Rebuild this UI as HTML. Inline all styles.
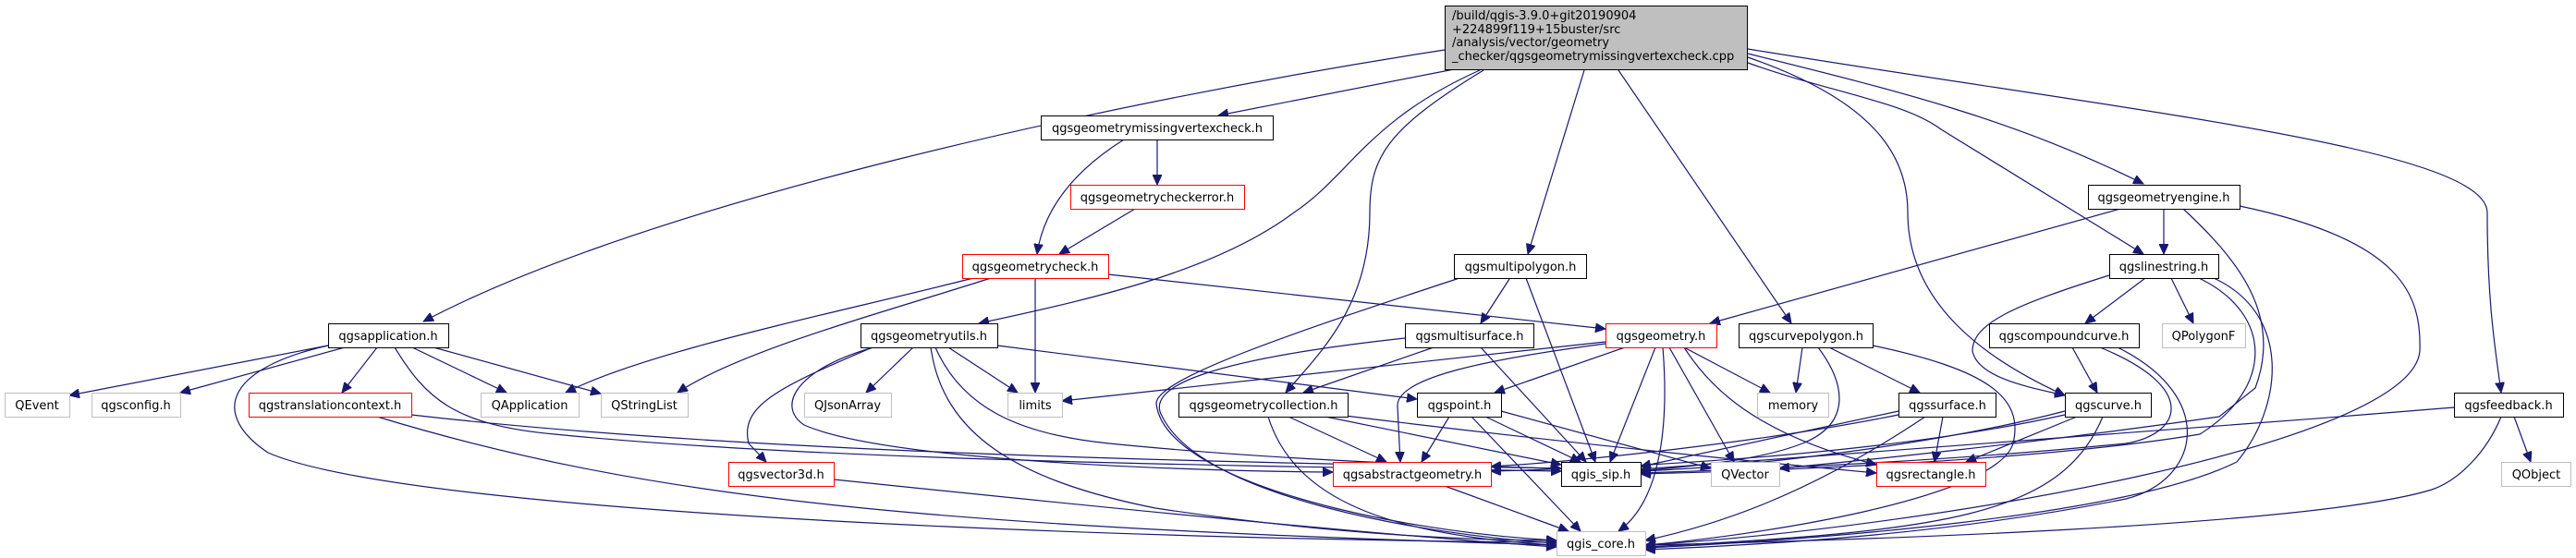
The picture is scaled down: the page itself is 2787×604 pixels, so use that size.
<!DOCTYPE html>
<html><head><meta charset="utf-8"><style>
html,body{margin:0;padding:0;background:#fff;}
svg{display:block;}
text{font-family:"DejaVu Sans","Liberation Sans",sans-serif;font-size:13px;fill:#000;}
</style></head><body>
<svg width="2787" height="604" viewBox="0 0 2787 604" xmlns="http://www.w3.org/2000/svg">
<defs><marker id="a" markerWidth="12" markerHeight="10" refX="11" refY="5" orient="auto" markerUnits="userSpaceOnUse"><path d="M0,0 L11,5 L0,10 z" fill="#191970" stroke="#191970"/></marker></defs>
<g fill="none" stroke="#191970" stroke-width="1.2" marker-end="url(#a)">
<path d="M1563,54 C1200,110 700,220 458,348"/>
<path d="M1573,75 L1318,125"/>
<path d="M1601,76 C1480,130 1460,190 1400,230 C1320,290 1200,320 1059,350"/>
<path d="M1605,76 C1500,140 1482,170 1482,230 C1482,330 1430,380 1391,425"/>
<path d="M1714,76 L1653,275"/>
<path d="M1751,76 L1938,350"/>
<path d="M1891,62 C2030,110 2064,170 2064,230 C2064,330 2150,390 2234,428"/>
<path d="M1891,68 C1980,100 2060,110 2100,140 L2319,275"/>
<path d="M1891,58 C2060,100 2180,130 2319,199"/>
<path d="M1891,53 C2300,120 2690,160 2691,230 C2691,330 2700,380 2706,425"/>
<path d="M1252,151 L1252,200"/>
<path d="M1216,151 C1170,180 1130,220 1122,275"/>
<path d="M1228,226 L1146,275"/>
<path d="M1053,301 C900,340 700,380 612,425"/>
<path d="M1072,301 C950,340 800,380 733,425"/>
<path d="M1120,301 L1120,425"/>
<path d="M1199,297 L1737,356"/>
<path d="M355,374 L75,428"/>
<path d="M373,376 L195,425"/>
<path d="M408,376 L370,425"/>
<path d="M446,376 L548,425"/>
<path d="M469,376 L650,426"/>
<path d="M355,374 C240,400 230,450 290,490 C450,560 1300,585 1684,587"/>
<path d="M427,376 C460,430 490,460 600,470 C900,500 1400,505 1689,510"/>
<path d="M445,449 C800,490 1300,500 1689,507"/>
<path d="M408,451 C700,540 1000,570 1684,590"/>
<path d="M988,376 L937,425"/>
<path d="M944,376 C840,420 800,440 810,480 L829,500"/>
<path d="M1026,376 L1101,425"/>
<path d="M1079,374 L1533,432"/>
<path d="M945,376 C860,400 840,440 870,460 C960,500 1300,510 1442,511"/>
<path d="M1012,376 C1040,440 1100,470 1200,480 C1400,500 1600,505 1689,507"/>
<path d="M1007,376 C1020,470 1100,520 1250,550 C1450,580 1600,585 1684,585"/>
<path d="M902,519 C1200,550 1500,580 1684,592"/>
<path d="M1633,302 L1602,350"/>
<path d="M1651,301 L1726,500"/>
<path d="M1579,301 C1400,360 1250,410 1251,437 C1260,520 1500,575 1684,585"/>
<path d="M1551,376 L1410,425"/>
<path d="M1602,376 L1716,500"/>
<path d="M1520,366 C1300,390 1240,420 1257,450 C1300,540 1550,580 1684,588"/>
<path d="M1737,370 L1149,434"/>
<path d="M1758,376 L1617,425"/>
<path d="M1737,372 C1600,390 1510,410 1512,440 L1515,500"/>
<path d="M1791,376 L1742,500"/>
<path d="M1799,376 C1805,450 1800,540 1751,575"/>
<path d="M1806,376 L1876,500"/>
<path d="M1822,376 L1915,425"/>
<path d="M1822,376 C1850,420 1900,470 2030,503"/>
<path d="M1394,451 L1500,500"/>
<path d="M1429,450 L1689,503"/>
<path d="M1372,451 C1400,540 1500,580 1684,590"/>
<path d="M1455,450 C1700,480 1900,500 2030,512"/>
<path d="M1568,451 L1538,500"/>
<path d="M1605,450 L1710,500"/>
<path d="M1592,451 L1710,575"/>
<path d="M1624,445 L1851,507"/>
<path d="M1563,526 L1697,575"/>
<path d="M1950,376 L1943,425"/>
<path d="M1979,376 L2077,425"/>
<path d="M1967,376 C2000,420 2000,460 1950,480 C1900,500 1820,505 1775,510"/>
<path d="M2026,374 C2150,400 2190,430 2178,480 C2160,540 1900,580 1780,590"/>
<path d="M2054,445 L1775,505"/>
<path d="M2054,449 C1900,480 1700,500 1613,505"/>
<path d="M2102,451 L2093,500"/>
<path d="M2083,451 C1950,540 1850,570 1780,585"/>
<path d="M2234,445 C2100,480 1900,505 1775,510"/>
<path d="M2234,449 C2050,490 1800,505 1613,510"/>
<path d="M2247,451 L2127,500"/>
<path d="M2275,451 C2230,560 2100,575 1780,592"/>
<path d="M2242,376 L2269,425"/>
<path d="M2272,376 C2380,420 2360,470 2300,480 C2100,500 1900,508 1775,512"/>
<path d="M2291,376 C2400,430 2380,520 2300,540 C2100,580 1900,590 1780,595"/>
<path d="M2321,301 L2256,350"/>
<path d="M2349,301 L2373,350"/>
<path d="M2282,298 C2180,330 2134,350 2134,380 C2140,410 2200,420 2234,428"/>
<path d="M2379,301 C2460,340 2460,420 2380,470 C2200,500 1900,510 1775,513"/>
<path d="M2395,301 C2480,340 2470,440 2420,500 C2300,560 1950,585 1780,593"/>
<path d="M2362,226 C2420,280 2470,340 2440,420 L2401,451 C2200,480 2000,500 1925,507"/>
<path d="M2341,226 L2341,275"/>
<path d="M2294,226 L1850,350"/>
<path d="M2423,223 C2600,260 2620,320 2618,380 C2610,480 2100,570 1780,590"/>
<path d="M2720,451 L2738,500"/>
<path d="M2655,441 C2300,470 1900,500 1775,508"/>
<path d="M2706,451 C2690,490 2660,520 2631,530 C2500,570 2000,585 1780,590"/>
</g>
<g stroke-width="1">
<rect x="1563.5" y="6.5" width="327" height="69" fill="#bfbfbf" stroke="#000"/>
<text x="1571" y="21">/build/qgis-3.9.0+git20190904</text>
<text x="1571" y="36">+224899f119+15buster/src</text>
<text x="1571" y="50">/analysis/vector/geometry</text>
<text x="1571" y="65">_checker/qgsgeometrymissingvertexcheck.cpp</text>
</g>
<g fill="#fff" stroke-width="1" text-anchor="middle">
<g stroke="#000">
<rect x="1126.5" y="125.5" width="251" height="26"/>
<rect x="2259.5" y="200.5" width="164" height="26"/>
<rect x="1573.5" y="275.5" width="143" height="26"/>
<rect x="2282.5" y="275.5" width="118" height="26"/>
<rect x="355.5" y="350.5" width="130" height="26"/>
<rect x="931.5" y="350.5" width="148" height="26"/>
<rect x="1520.5" y="350.5" width="139" height="26"/>
<rect x="1881.5" y="350.5" width="145" height="26"/>
<rect x="2152.5" y="350.5" width="162" height="26"/>
<rect x="1275.5" y="425.5" width="183" height="26"/>
<rect x="1533.5" y="425.5" width="91" height="26"/>
<rect x="2054.5" y="425.5" width="105" height="26"/>
<rect x="2234.5" y="425.5" width="93" height="26"/>
<rect x="2655.5" y="425.5" width="118" height="26"/>
<rect x="1689.5" y="500.5" width="86" height="26"/>
</g>
<g stroke="#ff0000">
<rect x="1158.5" y="200.5" width="188" height="26"/>
<rect x="1041.5" y="275.5" width="158" height="26"/>
<rect x="1737.5" y="350.5" width="120" height="26"/>
<rect x="269.5" y="425.5" width="176" height="26"/>
<rect x="788.5" y="500.5" width="114" height="26"/>
<rect x="1442.5" y="500.5" width="171" height="26"/>
<rect x="2030.5" y="500.5" width="118" height="26"/>
</g>
<g stroke="#bfbfbf">
<rect x="2339.5" y="350.5" width="90" height="26"/>
<rect x="5.5" y="425.5" width="70" height="26"/>
<rect x="99.5" y="425.5" width="96" height="26"/>
<rect x="520.5" y="425.5" width="106" height="26"/>
<rect x="650.5" y="425.5" width="94" height="26"/>
<rect x="870.5" y="425.5" width="94" height="26"/>
<rect x="1090.5" y="425.5" width="59" height="26"/>
<rect x="1901.5" y="425.5" width="77" height="26"/>
<rect x="1851.5" y="500.5" width="74" height="26"/>
<rect x="2706.5" y="500.5" width="75" height="26"/>
<rect x="1684.5" y="575.5" width="96" height="26"/>
</g>
</g>
<g text-anchor="middle">
<text x="1252" y="143">qgsgeometrymissingvertexcheck.h</text>
<text x="2341" y="218">qgsgeometryengine.h</text>
<text x="1645" y="293">qgsmultipolygon.h</text>
<text x="2341" y="293">qgslinestring.h</text>
<text x="420" y="368">qgsapplication.h</text>
<text x="1005" y="368">qgsgeometryutils.h</text>
<text x="1590" y="368">qgsmultisurface.h</text>
<text x="1954" y="368">qgscurvepolygon.h</text>
<text x="2233" y="368">qgscompoundcurve.h</text>
<text x="1367" y="443">qgsgeometrycollection.h</text>
<text x="1579" y="443">qgspoint.h</text>
<text x="2107" y="443">qgssurface.h</text>
<text x="2281" y="443">qgscurve.h</text>
<text x="2714" y="443">qgsfeedback.h</text>
<text x="1732" y="518">qgis_sip.h</text>
<text x="1252" y="218">qgsgeometrycheckerror.h</text>
<text x="1120" y="293">qgsgeometrycheck.h</text>
<text x="1797" y="368">qgsgeometry.h</text>
<text x="357" y="443">qgstranslationcontext.h</text>
<text x="845" y="518">qgsvector3d.h</text>
<text x="1528" y="518">qgsabstractgeometry.h</text>
<text x="2089" y="518">qgsrectangle.h</text>
<text x="2384" y="368">QPolygonF</text>
<text x="40" y="443">QEvent</text>
<text x="147" y="443">qgsconfig.h</text>
<text x="573" y="443">QApplication</text>
<text x="697" y="443">QStringList</text>
<text x="917" y="443">QJsonArray</text>
<text x="1120" y="443">limits</text>
<text x="1940" y="443">memory</text>
<text x="1888" y="518">QVector</text>
<text x="2744" y="518">QObject</text>
<text x="1732" y="593">qgis_core.h</text>
</g>
</svg>
</body></html>
